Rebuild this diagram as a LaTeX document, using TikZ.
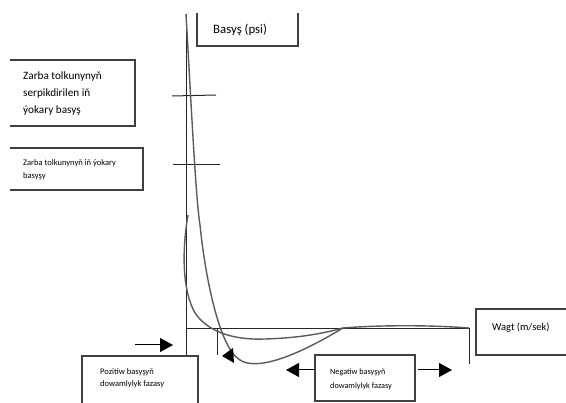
\documentclass[tikz,border=0pt]{standalone}
\usepackage{fontspec}
\setmainfont{Carlito}
\usetikzlibrary{arrows.meta}
\definecolor{boxline}{HTML}{404040}
\definecolor{curvecol}{HTML}{5A5A5A}
\tikzset{
  boxedge/.style={draw=boxline, line width=1.2pt},
  axisline/.style={draw=black!85, line width=1pt},
  curveline/.style={draw=curvecol, line width=1.4pt},
  lbl/.style={inner sep=0pt, anchor=west, align=left, text=black},
  bigarrow/.style={draw=black, line width=1pt, -{Triangle[length=13pt,width=14pt]}},
}
\begin{document}
\begin{tikzpicture}[x=1pt,y=-1pt]
\useasboundingbox (0,0) rectangle (566,403);
% boxes (sides drawn as in the reference)
\draw[boxedge] (10,60) -- (135,60) -- (135,126) -- (10,126);
\draw[boxedge] (10,148) -- (143,148) -- (143,190) -- (10,190);
\draw[boxedge] (197,13) -- (197,46) -- (298,46) -- (298,13);
\draw[boxedge] (566,309) -- (476,309) -- (476,355) -- (566,355);
\draw[boxedge] (82,403) -- (82,356) -- (198,356) -- (198,403);
\draw[boxedge] (315,355) rectangle (415,401);
% texts
\node[lbl, font=\fontsize{11.2}{17}\selectfont] (t1) at (23,94) {Zarba tolkunynyň\\serpikdirilen iň\\ýokary basyş};
\node[lbl, font=\fontsize{8.5}{13}\selectfont] (t2) at (23,169.5) {Zarba tolkunynyň iň ýokary\\basyşy};
\node[lbl, font=\fontsize{12.8}{15}\selectfont] (t3) at (213,30) {Basyş (psi)};
\node[lbl, font=\fontsize{10.5}{13}\selectfont] (t4) at (492,328) {Wagt (m/sek)};
\node[lbl, font=\fontsize{8.5}{12}\selectfont] (t5) at (100,378) {Pozitiw basyşyň\\dowamlylyk fazasy};
\node[lbl, font=\fontsize{8.2}{14}\selectfont] (t6) at (330,379) {Negatiw basyşyň\\dowamlylyk fazasy};
% axes
\coordinate (ytop) at (186,14);
\coordinate (ybot) at (186,355);
\coordinate (o) at (186,329);
\coordinate (xend) at (469,329);
\draw[axisline] (ytop) -- (ybot);
\draw[axisline] (o) -- (xend);
\draw[axisline] (469,328) -- (469,364);
\draw[axisline] (217,329) -- (217,355);
% tick marks on the pressure axis
\draw[axisline] (172,96) -- (216,95);
\draw[axisline] (173,165) -- (220,165);
% curves
\draw[curveline] (186,14) .. controls (192,120) and (196,200) .. (200,225)
  .. controls (205,275) and (219,348) .. (240,360)
  .. controls (255,370) and (290,360) .. (343,328);
\draw[curveline] (188,215) .. controls (182,250) and (182,290) .. (195,313)
  .. controls (210,335) and (240,340) .. (265,339)
  .. controls (300,338) and (325,333) .. (343,328);
\draw[curveline] (343,328) .. controls (380,325) and (430,325) .. (469,328);
% arrows
\coordinate (pa) at (135,345);
\coordinate (pb) at (173,345);
\draw[bigarrow] (pa) -- (pb);
\fill[black] (222,356) -- (233,348) -- (234,363) -- cycle;
\coordinate (nl) at (315,370);
\coordinate (nlt) at (286,370);
\draw[bigarrow] (nl) -- (nlt);
\coordinate (nr) at (418,370);
\coordinate (nrt) at (452,370);
\draw[bigarrow] (nr) -- (nrt);
\end{tikzpicture}
\end{document}
